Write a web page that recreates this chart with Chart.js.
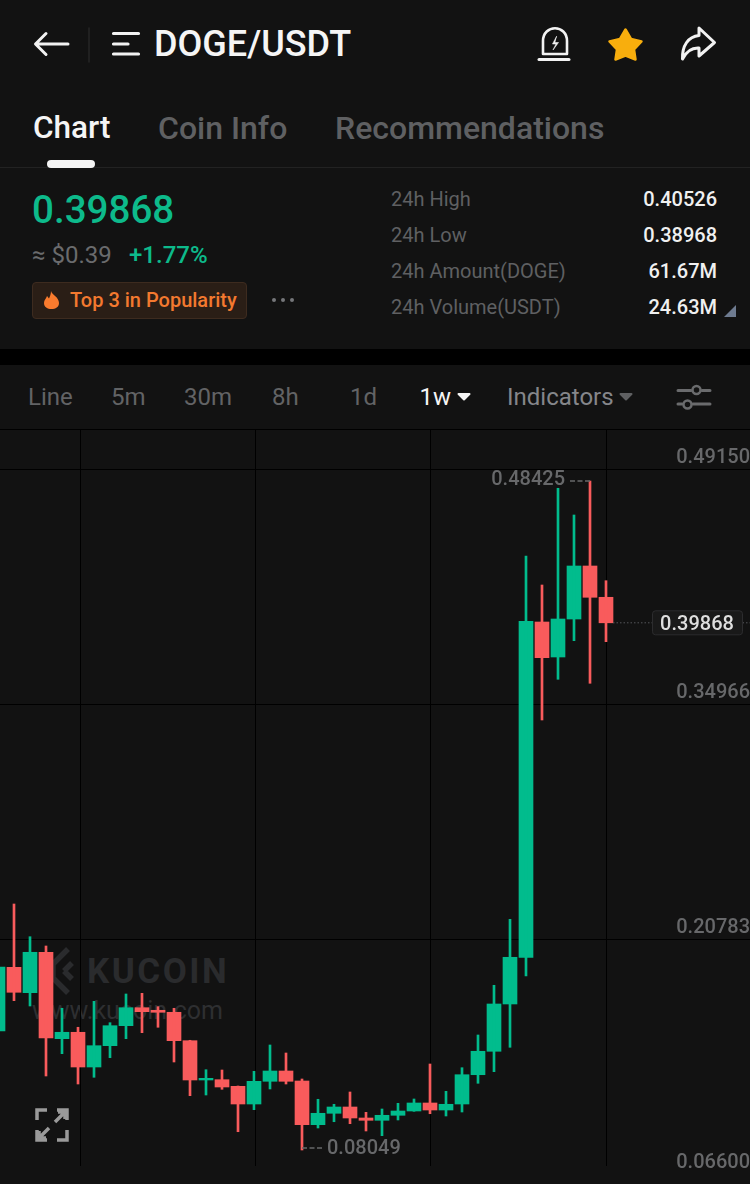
<!DOCTYPE html>
<html>
<head>
<meta charset="utf-8">
<title>DOGE/USDT</title>
<script src="https://cdn.jsdelivr.net/npm/chart.js@4"></script>
<style>
    html, body { margin: 0; padding: 0; background: #121212; }
    body { width: 750px; height: 1184px; position: relative; overflow: hidden; font-family: Roboto, sans-serif; }
    .t { position: absolute; white-space: nowrap; line-height: 40px; height: 40px; margin-top: -20px; }
    .r { text-align: right; }
    .grey { color: #5f6062; }
    .abs { position: absolute; }
    #chartBox { position: absolute; left: 0; top: 430px; }
</style>
</head>
<body>

<!-- header -->
<svg class="abs" style="left:0;top:0" width="750" height="170" fill="none" stroke="#f2f2f2" stroke-linecap="round" stroke-linejoin="round">
    <path d="M36 44H68M46 33.500L35.500 44L46 54.500" stroke-width="3"/>
    <path d="M89 28V62" stroke="#262626" stroke-width="1.500"/>
    <path d="M113.500 33.500H138.500M113.500 44H128M113.500 54H138.500" stroke-width="3.200"/>
    <path d="M543 54V41C543 24 567 24 567 41V54Z" stroke-width="2.600"/>
    <path d="M539 59.500H569" stroke-width="3"/>
    <path d="M556.500 36.500L552.500 44H556L553 50L558.500 42.500H555Z" fill="#f2f2f2" stroke-width="0.600"/>
    <path d="M625.500 29.500L631 39L641.500 41.500L634 49.500L635.500 59.500L625.500 55.500L615.500 59.500L617 49.500L609.500 41.500L620 39Z" fill="#f8ae0d" stroke="#f8ae0d" stroke-width="2.500"/>
    <path d="M699 28L714.500 42.500L699 56V48C691 47.500 686 52 682.500 59C682 46 688 36.500 699 35.500Z" stroke-width="3"/>
    <path d="M0 167.500H750" stroke="#222" stroke-width="1"/>
</svg>
<div class="abs" style="left:47px;top:160px;width:48px;height:8px;border-radius:4px;background:#f4f4f4"></div>

<div class="t" style="left:154px;top:44px;font-size:36px;font-weight:500;color:#f5f5f5">DOGE/USDT</div>
<div class="t" style="left:33px;top:128px;font-size:31.500px;font-weight:500;color:#f5f5f5">Chart</div>
<div class="t" style="left:158px;top:128px;font-size:32px;font-weight:500;color:#5f6062">Coin Info</div>
<div class="t" style="left:335px;top:128px;font-size:32px;font-weight:500;color:#5f6062">Recommendations</div>

<div class="t" style="left:32px;top:210px;font-size:38.600px;font-weight:500;color:#0dba8b">0.39868</div>
<div class="t grey" style="left:32px;top:255px;font-size:24px;color:#6a6b6d">≈ $0.39</div>
<div class="t" style="left:129px;top:255px;font-size:24px;font-weight:500;color:#0dba8b">+1.77%</div>

<div class="abs" style="left:32px;top:282px;width:213px;height:35px;border:1px solid #3d2b1f;border-radius:4px;background:#2a1e16"></div>
<svg class="abs" style="left:42px;top:290px" width="20" height="20">
    <path d="M9 1C10 5 17 7 17 13C17 17 13.500 19 9.500 19C5.500 19 2 17 2 13C2 10 4 9 5 6C6 7 6.500 8 7 8.500C8 6 9 4 9 1Z" fill="#f97b2e"/>
</svg>
<div class="t" style="left:70px;top:300px;font-size:20px;font-weight:500;color:#f3792f">Top 3 in Popularity</div>
<svg class="abs" style="left:270px;top:294px" width="26" height="12" fill="#75767a">
    <circle cx="4" cy="6" r="2"/><circle cx="13" cy="6" r="2"/><circle cx="22" cy="6" r="2"/>
</svg>

<div class="t grey" style="left:391px;top:199px;font-size:20px">24h High</div>
<div class="t grey" style="left:391px;top:235px;font-size:20px">24h Low</div>
<div class="t grey" style="left:391px;top:271px;font-size:20px">24h Amount(DOGE)</div>
<div class="t grey" style="left:391px;top:307px;font-size:20px">24h Volume(USDT)</div>
<div class="t r" style="right:33px;top:199px;font-size:20px;font-weight:500;color:#f0f0f0">0.40526</div>
<div class="t r" style="right:33px;top:235px;font-size:20px;font-weight:500;color:#f0f0f0">0.38968</div>
<div class="t r" style="right:33px;top:271px;font-size:20px;font-weight:500;color:#f0f0f0">61.67M</div>
<div class="t r" style="right:33px;top:307px;font-size:20px;font-weight:500;color:#f0f0f0">24.63M</div>
<svg class="abs" style="left:724px;top:305px" width="12" height="12"><path d="M12 0V12H0Z" fill="#6e7b90"/></svg>

<div class="abs" style="left:0;top:349px;width:750px;height:16px;background:#000"></div>

<!-- interval bar -->
<div class="t grey" style="left:28px;top:397px;font-size:24px;color:#626365">Line</div>
<div class="t grey" style="left:111px;top:397px;font-size:24px;color:#626365">5m</div>
<div class="t grey" style="left:184px;top:397px;font-size:24px;color:#626365">30m</div>
<div class="t grey" style="left:272px;top:397px;font-size:24px;color:#626365">8h</div>
<div class="t grey" style="left:350px;top:397px;font-size:24px;color:#626365">1d</div>
<div class="t" style="left:419.500px;top:397px;font-size:24px;font-weight:400;color:#f5f5f5">1w</div>
<div class="t" style="left:507px;top:397px;font-size:24px;color:#85868a">Indicators</div>
<svg class="abs" style="left:0;top:380px" width="750" height="40">
    <path d="M458.500 14H469.500L464 19.500Z" fill="#f5f5f5" stroke="#f5f5f5" stroke-width="2" stroke-linejoin="round"/>
    <path d="M620.500 14H631.500L626 19.500Z" fill="#5f6062" stroke="#5f6062" stroke-width="2" stroke-linejoin="round"/>
    <path d="M678 10.500H691M702 10.500H710M678 24H682M693 24H710" stroke="#6a6b6d" stroke-width="3" stroke-linecap="round"/>
    <circle cx="696.500" cy="10" r="4" fill="none" stroke="#6a6b6d" stroke-width="2.500"/>
    <circle cx="687.500" cy="24.500" r="4" fill="none" stroke="#6a6b6d" stroke-width="2.500"/>
</svg>
<div class="abs" style="left:0;top:429px;width:750px;height:1px;background:#000"></div>

<!-- watermark, sits behind the candles -->
<svg class="abs" style="left:48px;top:946px" width="28" height="50" fill="none" stroke="#2a2b2d" stroke-width="5.500">
    <path d="M20 3L5 18V32L20 47M16 25L24 33M16 25L24 17"/>
</svg>
<div class="t" style="left:87px;top:972px;font-size:35px;font-weight:700;letter-spacing:2.500px;color:#2a2b2d">KUCOIN</div>
<div class="t" style="left:32px;top:1011px;font-size:25px;color:#2e2f31">www.kucoin.com</div>

<div id="chartBox"><canvas id="chart" width="750" height="754"></canvas></div>

<svg class="abs" style="left:34px;top:1107px" width="36" height="36" fill="none" stroke="#9a9a9a" stroke-width="3.500">
    <path d="M3 13V3H13M23 3H33V13M33 23V33H23M13 33H3V23"/>
    <path d="M21 15L31 5M24 5H31V12M15 21L5 31M5 24V31H12"/>
</svg>

<script>
// weeks on the x axis, one candle each
const weeks = [0, 1, 2, 3, 4, 5, 6, 7, 8, 9, 10, 11, 12, 13, 14, 15, 16, 17, 18, 19, 20, 21, 22, 23, 24, 25, 26, 27, 28, 29, 30, 31, 32, 33, 34, 35, 36, 37, 38];

const opens = [0.15232, 0.19076, 0.17544, 0.19982, 0.14768, 0.15154, 0.13059, 0.14345, 0.15552, 0.16638,
    0.16482, 0.16361, 0.14647, 0.12275, 0.12293, 0.11894, 0.10826, 0.12196, 0.12818, 0.12214,
    0.09577, 0.10265, 0.10645, 0.09981, 0.09842, 0.10144, 0.10404, 0.10887, 0.10464, 0.10826,
    0.12594, 0.14007, 0.16862, 0.19680, 0.39916, 0.37804, 0.40097, 0.43296, 0.41407];
const highs = [0.19517, 0.22897, 0.20923, 0.20362, 0.16602, 0.15456, 0.17024, 0.15733, 0.17465, 0.17507,
    0.16699, 0.16602, 0.14671, 0.12896, 0.12878, 0.11912, 0.12799, 0.14387, 0.13904, 0.12335,
    0.11110, 0.10808, 0.11551, 0.10325, 0.10525, 0.10868, 0.11128, 0.13240, 0.11592, 0.13017,
    0.14991, 0.17990, 0.21973, 0.43900, 0.42149, 0.47986, 0.46374, 0.48425, 0.42409];
const lows = [0.14991, 0.17061, 0.16741, 0.12516, 0.13862, 0.12033, 0.12437, 0.13621, 0.14768, 0.15130,
    0.15456, 0.13361, 0.11327, 0.11369, 0.11713, 0.09154, 0.10482, 0.11732, 0.12033, 0.08049,
    0.09378, 0.09757, 0.09637, 0.09197, 0.08913, 0.09861, 0.10385, 0.10240, 0.10102, 0.10343,
    0.12075, 0.12776, 0.14248, 0.18551, 0.34002, 0.36458, 0.38788, 0.36217, 0.38728];
const closes = [0.19095, 0.17568, 0.19982, 0.14810, 0.15154, 0.13059, 0.14345, 0.15552, 0.16638, 0.16397,
    0.16361, 0.14647, 0.12275, 0.12377, 0.11852, 0.10826, 0.12196, 0.12818, 0.12196, 0.09577,
    0.10265, 0.10645, 0.09981, 0.09842, 0.10144, 0.10404, 0.10887, 0.10464, 0.10808, 0.12594,
    0.14007, 0.16862, 0.19680, 0.39959, 0.37762, 0.40097, 0.43296, 0.41407, 0.39868];

const priceTicks = [0.49150, 0.34966, 0.20783, 0.06600];
const weekGrid = [5.125, 16.1, 27.06, 38];
const lastPrice = 0.39868;

const GREEN = "#01bc8d";
const RED = "#f95b5c";
const LABEL = "#67686a";
const candleColors = opens.map((o, i) => closes[i] >= o ? GREEN : RED);

// min, max and last price markers on top of the candles
const markers = {
    id: "markers",
    afterDatasetsDraw(chart) {
        const ctx = chart.ctx;
        const x = chart.scales.x;
        const y = chart.scales.y;
        ctx.save();
        ctx.font = "500 20px Roboto";
        ctx.textBaseline = "middle";

        // highest
        let hi = Math.max(...highs);
        let hx = x.getPixelForValue(highs.indexOf(hi));
        let hy = y.getPixelForValue(hi);
        ctx.fillStyle = LABEL;
        ctx.textAlign = "right";
        ctx.fillText(hi.toFixed(5), hx - 25, hy - 1);
        ctx.strokeStyle = LABEL;
        ctx.lineWidth = 1.5;
        ctx.setLineDash([5, 2.5]);
        ctx.beginPath();
        ctx.moveTo(hx - 20, hy);
        ctx.lineTo(hx, hy);
        ctx.stroke();

        // lowest
        let lo = Math.min(...lows);
        let lx = x.getPixelForValue(lows.indexOf(lo));
        let ly = y.getPixelForValue(lo);
        ctx.beginPath();
        ctx.moveTo(lx, ly - 2);
        ctx.lineTo(lx + 20, ly - 2);
        ctx.stroke();
        ctx.textAlign = "left";
        ctx.fillText(lo.toFixed(5), lx + 25, ly - 1);

        // last price
        let py = y.getPixelForValue(lastPrice);
        let px = x.getPixelForValue(weeks[weeks.length - 1]);
        ctx.strokeStyle = "#55565a";
        ctx.lineWidth = 1;
        ctx.setLineDash([1.5, 2]);
        ctx.beginPath();
        ctx.moveTo(px + 7, py);
        ctx.lineTo(750, py);
        ctx.stroke();
        ctx.setLineDash([]);
        ctx.fillStyle = "#191919";
        ctx.strokeStyle = "#2c2c2e";
        ctx.beginPath();
        ctx.roundRect(652.5, py - 12, 90, 24, 3);
        ctx.fill();
        ctx.stroke();
        ctx.fillStyle = "#dedede";
        ctx.textAlign = "center";
        ctx.fillText(lastPrice.toFixed(5), 697, py + 2.5);
        ctx.restore();
    }
};

new Chart(document.getElementById("chart"), {
    type: "bar",
    data: {
        datasets: [
            {
                label: "wick",
                data: weeks.map((w, i) => ({ x: w, y: [lows[i], highs[i]] })),
                backgroundColor: candleColors,
                barThickness: 2
            },
            {
                label: "body",
                data: weeks.map((w, i) => ({ x: w, y: [opens[i], closes[i]] })),
                backgroundColor: candleColors,
                barThickness: 14
            }
        ]
    },
    options: {
        responsive: false,
        animation: false,
        grouped: false,
        layout: { padding: { bottom: 18 } },
        plugins: {
            legend: { display: false },
            tooltip: { enabled: false }
        },
        scales: {
            x: {
                type: "linear",
                min: 0.125,
                max: 47,
                offset: false,
                border: { display: false },
                grid: { offset: false, color: "#000", lineWidth: 1, drawTicks: false },
                ticks: { display: false },
                afterBuildTicks(scale) {
                    scale.ticks = weekGrid.map(v => ({ value: v }));
                }
            },
            y: {
                position: "right",
                min: 0.07084,
                max: 0.51504,
                border: { display: false },
                grid: {
                    drawTicks: false,
                    lineWidth: 1,
                    color: c => c.tick && c.tick.value === 0.06600 ? "transparent" : "#000"
                },
                afterBuildTicks(scale) {
                    scale.ticks = priceTicks.map(v => ({ value: v }));
                },
                afterFit(scale) {
                    scale.paddingTop = 0;
                    scale.paddingBottom = 0;
                },
                ticks: {
                    mirror: true,
                    padding: 0,
                    labelOffset: -11,
                    autoSkip: false,
                    color: LABEL,
                    font: { family: "Roboto", size: 20, weight: "500" },
                    callback: v => v.toFixed(5)
                }
            }
        }
    },
    plugins: [markers]
});
</script>
</body>
</html>
